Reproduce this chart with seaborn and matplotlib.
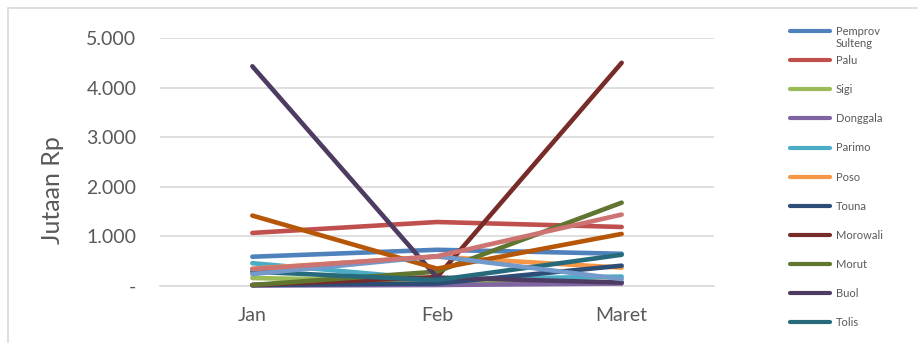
import matplotlib
matplotlib.use("Agg")
import matplotlib.pyplot as plt
from matplotlib.lines import Line2D
from matplotlib.patches import Rectangle
from matplotlib.ticker import FuncFormatter
import seaborn as sns
import pandas as pd

# Monthly realisation per region (Jutaan Rp)
months = ["Jan", "Feb", "Maret"]
pemprov_sulteng = [590, 730, 650]
palu = [1070, 1290, 1190]
sigi = [160, 100, 80]
donggala = [10, 20, 50]
parimo = [460, 130, 190]
poso = [350, 590, 370]
touna = [20, 50, 410]
morowali = [20, 180, 4500]
morut = [20, 290, 1680]
buol = [4430, 170, 70]
tolis = [290, 120, 630]
banggai = [1420, 350, 1050]
bangkep = [240, 600, 140]
balut = [340, 600, 1440]

series = {
    "Pemprov Sulteng": pemprov_sulteng,
    "Palu": palu,
    "Sigi": sigi,
    "Donggala": donggala,
    "Parimo": parimo,
    "Poso": poso,
    "Touna": touna,
    "Morowali": morowali,
    "Morut": morut,
    "Buol": buol,
    "Tolis": tolis,
    "Banggai": banggai,
    "Bangkep": bangkep,
    "Balut": balut,
}
colors = ["#4F81BD", "#C0504D", "#9BBB59", "#8064A2", "#4BACC6", "#F79646",
          "#2C4D75", "#772C2A", "#5F7530", "#4D3B62", "#276A7C", "#B65708",
          "#729ACA", "#CD7371"]
legend_names = ["Pemprov Sulteng", "Palu", "Sigi", "Donggala", "Parimo", "Poso",
                "Touna", "Morowali", "Morut", "Buol", "Tolis"]

rows = []
for name, vals in series.items():
    for m, v in zip(months, vals):
        rows.append({"Bulan": m, "Nilai": v, "Wilayah": name})
df = pd.DataFrame(rows)
palette = dict(zip(series.keys(), colors))

sns.set_theme(style="white")
plt.rcParams["font.family"] = ["Lato", "DejaVu Sans"]
text_color = "#595959"
grid_color = "#D9D9D9"

W, H = 918, 343
fig = plt.figure(figsize=(W / 100, H / 100), dpi=100)
ax = fig.add_axes([160 / W, 1 - 286 / H, (714 - 160) / W, (286 - 38) / H])

sns.lineplot(data=df, x="Bulan", y="Nilai", hue="Wilayah", palette=palette,
             sort=False, linewidth=3.3, legend=False, ax=ax, zorder=3)
for ln in ax.get_lines():
    ln.set_solid_capstyle("round")
    ln.set_solid_joinstyle("round")
    ln.set_clip_on(False)

ax.set_xlim(-0.5, 2.5)
ax.set_ylim(0, 5000)
ax.set_yticks([0, 1000, 2000, 3000, 4000, 5000])
ax.yaxis.set_major_formatter(FuncFormatter(
    lambda v, p: "-" if v == 0 else f"{v:,.0f}".replace(",", ".")))
ax.grid(axis="y", color=grid_color, linewidth=1.2, zorder=0)
ax.grid(axis="x", visible=False)
for s in ["left", "right", "top"]:
    ax.spines[s].set_visible(False)
ax.spines["bottom"].set_color(grid_color)
ax.spines["bottom"].set_linewidth(1.2)
ax.tick_params(axis="y", length=0, pad=17, labelsize=14, labelcolor=text_color)
ax.tick_params(axis="x", length=0, pad=15, labelsize=14, labelcolor=text_color)
ax.set_xlabel("")
ax.set_ylabel("Jutaan Rp", fontsize=18, color=text_color)
ax.yaxis.set_label_coords(-0.173, 0.387)

handles = [Line2D([0], [0], color=palette[n], linewidth=3, solid_capstyle="round")
           for n in legend_names]
labels = ["Pemprov"] + legend_names[1:]
leg = fig.legend(handles, labels, loc="upper left", bbox_to_anchor=(790 / W, 1 - 26 / H),
                 frameon=False, fontsize=8, handlelength=3.6, handletextpad=0.5,
                 labelspacing=1.63, borderpad=0, borderaxespad=0)
for t in leg.get_texts():
    t.set_color(text_color)

fig.canvas.draw()
first = leg.get_texts()[0].get_window_extent()
fig.text(first.x0 / W, (first.y0 - 1) / H, "Sulteng", fontsize=8,
         color=text_color, ha="left", va="top")

# chart frame
fig.patches.append(Rectangle((8 / W, -0.1), 1.2, 1.1 - 8 / H, transform=fig.transFigure,
                             fill=False, edgecolor=grid_color, linewidth=1.2))

fig.savefig("out.png", dpi=100)
